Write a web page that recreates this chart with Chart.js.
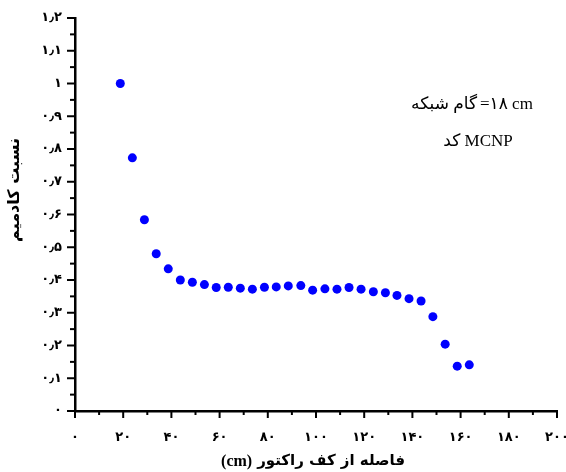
<!DOCTYPE html>
<html>
<head>
<meta charset="utf-8">
<script src="https://cdn.jsdelivr.net/npm/chart.js@4.4.0/dist/chart.umd.min.js"></script>
<style>
  body { margin: 0; background: #fff; }
  canvas { display: block; }
</style>
</head>
<body>
<canvas id="myChart" width="566" height="472"></canvas>
<script>
// distance from reactor floor (cm)
var xValues = [18.8, 23.8, 28.8, 33.7, 38.7, 43.7, 48.7, 53.7, 58.6, 63.6,
  68.6, 73.6, 78.6, 83.5, 88.5, 93.7, 98.6, 103.7, 108.7, 113.7,
  118.7, 123.8, 128.8, 133.6, 138.6, 143.6, 148.5, 153.6, 158.6, 163.6];
// cadmium ratio
var yValues = [1.0, 0.773, 0.584, 0.48, 0.434, 0.4, 0.393, 0.386, 0.377, 0.378,
  0.375, 0.372, 0.378, 0.379, 0.382, 0.383, 0.369, 0.373, 0.372, 0.377,
  0.372, 0.364, 0.361, 0.353, 0.343, 0.336, 0.288, 0.204, 0.137, 0.141];

var xTickValues = [0, 20, 40, 60, 80, 100, 120, 140, 160, 180, 200];
var xTickLabels = ["۰", "۲۰", "۴۰", "۶۰", "۸۰", "۱۰۰", "۱۲۰", "۱۴۰", "۱۶۰", "۱۸۰", "۲۰۰"];
var yTickValues = [0, 0.1, 0.2, 0.3, 0.4, 0.5, 0.6, 0.7, 0.8, 0.9, 1, 1.1, 1.2];
var yTickLabels = ["۰", "۰٫۱", "۰٫۲", "۰٫۳", "۰٫۴", "۰٫۵", "۰٫۶", "۰٫۷", "۰٫۸", "۰٫۹", "۱", "۱٫۱", "۱٫۲"];

var xTitleWords = "فاصله از کف راکتور";
var xTitleUnit = "(cm)";
var yTitle = "نسبت کادمیم";
var noteWord = "گام شبکه";
var noteValue = "=۱۸ cm";
var noteLine2 = "کد MCNP";

var points = xValues.map(function (x, i) {
  return { x: x, y: yValues[i] };
});

function labelFor(values, labels, v) {
  for (var i = 0; i < values.length; i++) {
    if (Math.abs(values[i] - v) < 1e-6) return labels[i];
  }
  return "";
}

var extras = {
  id: "extras",
  afterDraw: function (chart) {
    var ctx = chart.ctx;
    var xs = chart.scales.x;
    var ys = chart.scales.y;
    ctx.save();
    ctx.strokeStyle = "#000";
    ctx.lineWidth = 2;
    xs.ticks.forEach(function (t) {
      var px = xs.getPixelForValue(t.value);
      var major = labelFor(xTickValues, xTickLabels, t.value) !== "";
      ctx.beginPath();
      ctx.moveTo(px, ys.bottom);
      ctx.lineTo(px, ys.bottom + (major ? 7 : 4));
      ctx.stroke();
    });
    ys.ticks.forEach(function (t) {
      var py = ys.getPixelForValue(t.value);
      var major = labelFor(yTickValues, yTickLabels, t.value) !== "";
      ctx.beginPath();
      ctx.moveTo(xs.left, py);
      ctx.lineTo(xs.left - (major ? 8 : 5), py);
      ctx.stroke();
    });

    ctx.fillStyle = "#000";
    ctx.textBaseline = "middle";
    ctx.direction = "ltr";

    // x axis title: unit on the left, words on the right (rtl)
    ctx.font = "bold 15px 'DejaVu Sans'";
    ctx.textAlign = "right";
    var wordsRight = 405;
    ctx.fillText(xTitleWords, wordsRight, 461);
    var wordsW = ctx.measureText(xTitleWords).width;
    ctx.font = "bold 16px 'Liberation Serif'";
    ctx.fillText(xTitleUnit, wordsRight - wordsW - 5, 462);

    ctx.save();
    ctx.translate(15, 190);
    ctx.rotate(-Math.PI / 2);
    ctx.textAlign = "center";
    ctx.font = "bold 16px 'DejaVu Sans'";
    ctx.fillText(yTitle, 0, 0);
    ctx.restore();

    ctx.font = "17px 'Liberation Serif', 'DejaVu Sans'";
    ctx.textAlign = "right";
    ctx.fillText(noteWord, 477, 105);
    ctx.textAlign = "left";
    ctx.fillText(noteValue, 480, 105);
    ctx.textAlign = "center";
    ctx.fillText(noteLine2, 478, 142);
    ctx.restore();
  }
};

var ctx = document.getElementById("myChart").getContext("2d");
var myChart = new Chart(ctx, {
  type: "scatter",
  data: {
    datasets: [
      {
        label: "MCNP",
        data: points,
        backgroundColor: "#0000FF",
        borderColor: "#0000FF",
        pointRadius: 4.5,
        pointHoverRadius: 4.5,
        borderWidth: 0,
      },
    ],
  },
  options: {
    responsive: false,
    animation: false,
    layout: {
      padding: { top: 18, right: 9, left: 0, bottom: 0 },
    },
    plugins: {
      legend: { display: false },
      tooltip: { enabled: false },
    },
    scales: {
      x: {
        type: "linear",
        min: 0,
        max: 200,
        afterBuildTicks: function (scale) {
          var t = [];
          for (var v = 0; v <= 200; v += 10) t.push({ value: v });
          scale.ticks = t;
        },
        afterFit: function (scale) {
          scale.height = 61;
          scale.paddingLeft = 0;
          scale.paddingRight = 0;
        },
        ticks: {
          autoSkip: false,
          maxRotation: 0,
          padding: 19,
          color: "#000",
          font: { family: "'DejaVu Sans'", size: 13, weight: "bold" },
          callback: function (value) {
            return labelFor(xTickValues, xTickLabels, value);
          },
        },
        grid: { display: true, drawOnChartArea: false, drawTicks: false },
        border: { display: true, color: "#000", width: 2.5 },
      },
      y: {
        type: "linear",
        min: 0,
        max: 1.2,
        afterBuildTicks: function (scale) {
          var t = [];
          for (var i = 0; i <= 24; i++) t.push({ value: Math.round(i * 5) / 100 });
          scale.ticks = t;
        },
        afterFit: function (scale) {
          scale.width = 75;
          scale.paddingTop = 0;
          scale.paddingBottom = 0;
        },
        ticks: {
          autoSkip: false,
          padding: 13,
          color: "#000",
          font: { family: "'DejaVu Sans'", size: 13, weight: "bold" },
          callback: function (value) {
            return labelFor(yTickValues, yTickLabels, value);
          },
        },
        grid: { display: true, drawOnChartArea: false, drawTicks: false },
        border: { display: true, color: "#000", width: 2.5 },
      },
    },
  },
  plugins: [extras],
});
</script>
</body>
</html>
